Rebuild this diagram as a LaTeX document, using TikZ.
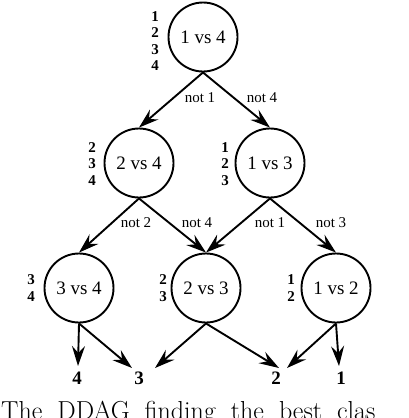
\documentclass[tikz,border=0pt]{standalone}
\usepackage{fontspec}
\setmainfont{Liberation Serif}
\newfontfamily\capfont{Latin Modern Roman}
\usetikzlibrary{arrows.meta}
\begin{document}
\begin{tikzpicture}[x=1pt,y=-1pt,
  dag/.style={circle, draw, line width=1.9pt, minimum size=69pt, inner sep=0pt,
    font=\fontsize{19}{20}\selectfont},
  stack/.style={align=center, inner sep=0pt, font=\fontsize{15}{16.6}\selectfont\bfseries},
  elabel/.style={inner sep=0pt, font=\fontsize{15}{16}\selectfont},
  leaf/.style={inner sep=0pt, font=\fontsize{19}{20}\selectfont\bfseries},
  arr/.style={line width=1.9pt, -{Stealth[length=20pt, width=13pt, inset=7pt]}}
]
\useasboundingbox (0,0) rectangle (408,418);
\clip (0,0) rectangle (408,418);

% decision nodes
\node[dag] (n14) at (203,37) {1 vs 4};
\node[dag] (n24) at (139,163) {2 vs 4};
\node[dag] (n13) at (270,163) {1 vs 3};
\node[dag] (n34) at (79,288) {3 vs 4};
\node[dag] (n23) at (206,288) {2 vs 3};
\node[dag] (n12) at (336,288) {1 vs 2};

% class stacks
\node[stack] (s14) at (155,41) {1\\2\\3\\4};
\node[stack] (s24) at (92,164) {2\\3\\4};
\node[stack] (s13) at (225,164) {1\\2\\3};
\node[stack] (s34) at (31,288) {3\\4};
\node[stack] (s23) at (163,288) {2\\3};
\node[stack] (s12) at (291,288) {1\\2};

% leaves
\node[leaf] (l4) at (77,378) {4};
\node[leaf] (l3) at (139,378) {3};
\node[leaf] (l2) at (276,378) {2};
\node[leaf] (l1) at (341,378) {1};

\coordinate (t4) at (78,366);
\coordinate (t3a) at (132,368);
\coordinate (t3b) at (155,368);
\coordinate (t2a) at (279,368);
\coordinate (t2b) at (287,368);
\coordinate (t1) at (339,366);

% edges
\draw[arr] (n14.south) -- (n24.north);
\draw[arr] (n14.south) -- (n13.north);
\draw[arr] (n24.south) -- (n34.north);
\draw[arr] (n24.south) -- (n23.north);
\draw[arr] (n13.south) -- (n23.north);
\draw[arr] (n13.south) -- (n12.north);
\draw[arr] (n34.south) -- (t4);
\draw[arr] (n34.south) -- (t3a);
\draw[arr] (n23.south) -- (t3b);
\draw[arr] (n23.south) -- (t2a);
\draw[arr] (n12.south) -- (t2b);
\draw[arr] (n12.south) -- (t1);

% edge labels
\node[elabel] (e1) at (200,98) {not 1};
\node[elabel] (e2) at (262,98) {not 4};
\node[elabel] (e3) at (136,223) {not 2};
\node[elabel] (e4) at (197,223) {not 4};
\node[elabel] (e5) at (270,223) {not 1};
\node[elabel] (e6) at (331,223) {not 3};

% caption (cut off by the picture's edge)
\node[anchor=base west, inner sep=0pt, font=\capfont\fontsize{26}{28}\selectfont] (cap) at (1,419)
  {\spaceskip=15pt The DDAG finding the best clas};
\end{tikzpicture}
\end{document}
